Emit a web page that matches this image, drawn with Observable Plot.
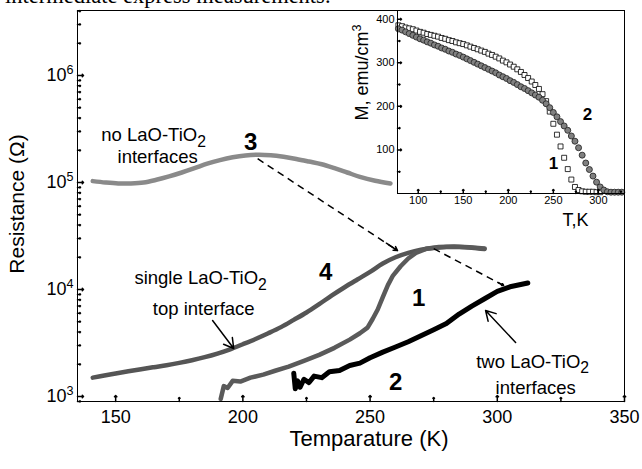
<!DOCTYPE html>
<html><head><meta charset="utf-8">
<script src="https://cdn.jsdelivr.net/npm/d3@7"></script>
<script src="https://cdn.jsdelivr.net/npm/@observablehq/plot@0.6"></script>
<style>
body{margin:0;background:#fff;}
#wrap{position:relative;width:642px;height:469px;overflow:hidden;font-family:"Liberation Sans",Arial,sans-serif;background:#fff;}
#top{position:absolute;left:5px;top:-15px;font:22.5px "Liberation Serif",serif;white-space:nowrap;line-height:22px;}
#main{position:absolute;left:0;top:0;}
#inset{position:absolute;left:340px;top:0;}
</style></head><body>
<div id="wrap"><div id="top">intermediate express measurements.</div><div id="main"></div><div id="inset"></div></div>
<script>
// ---- main chart data: Temperature (K) vs Resistance (Ohm) ----
const c3T = [141,146,151,156,161,166,171,176,181,186,191,196,201,206,211,216,221,226,231,236,241,246,252,258];
const c3R = [1.03e5,1.0e5,9.8e4,9.8e4,1.0e5,1.06e5,1.14e5,1.24e5,1.36e5,1.5e5,1.62e5,1.72e5,1.79e5,1.82e5,1.8e5,1.74e5,1.66e5,1.57e5,1.48e5,1.36e5,1.24e5,1.13e5,1.04e5,9.8e4];

const c4T = [141,145,150,155,160,165,170,175,180,185,190,195,200,205,210,215,220,225,230,235,240,245,250,255,260,265,270,275,280,285,290,295];
const c4R = [1500,1560,1640,1720,1800,1880,1960,2060,2180,2330,2520,2760,3080,3450,3900,4450,5200,6100,7300,8800,10500,12400,14600,17500,20000,22000,23500,24400,24900,25000,24600,23900];

const c1T = [191.3,192.5,194,196,199,203,208,213,218,224,230,236,242,246,249,251,253,255,257,259,262,265,268,272,277,283,289,295];
const c1R = [950,1250,1200,1400,1380,1500,1600,1750,1900,2150,2450,2850,3400,3900,4400,5300,6500,8500,11000,13500,16500,19500,22000,24000,25000,25200,24800,24200];

const c2T = [220,220.6,221.5,222.5,224,226,228,231,234,238,242,246,250,255,260,265,270,275,280,285,290,295,300,305,312];
const c2R = [1650,1180,1400,1220,1450,1350,1550,1500,1700,1750,1950,2050,2300,2600,2900,3250,3700,4200,4800,5900,7000,8200,9600,10600,11500];

const xMajor = [150,200,250,300,350];
const xMinor = [175,225,275,325];
const yMajor = [1e3,1e4,1e5,1e6];

// annotations (T, R, text)
const noteText = ["no LaO-TiO_2","interfaces","single LaO-TiO_2","top interface","two LaO-TiO_2","interfaces"];
const noteT = [164.9,166.5,183.4,184.6,313.9,315.1];
const noteR = [2.75e5,1.71e5,1.27e4,6500,2120,1190];
const numText = ["3","4","1","2"];
const numT = [203.1,232.5,269.1,260.1];
const numR = [2.37e5,1.44e4,8240,1350];

// dashed arrows (start T,R -> end T,R)
const dashT1 = [205.8,275.0], dashR1 = [1.67e5,2.41e4], dashT2 = [260.8,302.5], dashR2 = [2.31e4,1.09e4];
// solid pointer arrows
const arrT1 = [188.1,307.2], arrR1 = [5130,3200], arrT2 = [196.4,295.4], arrR2 = [2810,6370];

// ---- inset data: T (K) vs M (emu/cm3) ----
const m1T = [78,82,86,90,94,98,102,106,110,114,118,122,126,130,134,138,142,146,150,154,158,162,166,170,174,178,182,186,190,194,198,202,206,210,214,218,222,226,230,234,238,242,246,250,254,258,262,266,270,274,278,282,286,290,294,298,302];
const m1M = [386,384,381,379,377,374,371,369,366,364,362,360,357,355,352,350,347,345,343,340,337,334,331,328,325,321,318,314,310,305,301,296,291,285,279,272,265,257,249,240,228,212,188,160,135,108,82,56,32,15,8,5,4,4,4,3,3];
const m2T = [78,82,86,90,94,98,102,106,110,114,118,122,126,130,134,138,142,146,150,154,158,162,166,170,174,178,182,186,190,194,198,202,206,210,214,218,222,226,230,234,238,242,246,250,254,258,262,266,270,274,278,282,286,290,294,298,302,306,310,314,318,322,326];
const m2M = [378,375,371,367,363,359,355,352,348,345,341,338,334,331,327,324,320,317,313,309,305,301,297,293,289,285,281,277,272,268,264,259,255,250,245,241,236,231,226,221,214,206,197,186,176,165,155,145,132,120,105,88,70,55,40,26,15,8,4,3,3,3,3];
const ixMajor = [100,150,200,250,300], ixMinor = [125,175,225,275,325];
const iyMajor = [100,200,300,400], iyMinor = [50,150,250,350];
const insetNumText = ["1","2"], insetNumT = [250.3,288], insetNumM = [69,181];

const zip = (xs, ys, kx, ky) => xs.map((v, i) => ({[kx]: v, [ky]: ys[i]}));
const curve3 = zip(c3T, c3R, "T", "R");
const curve4 = zip(c4T, c4R, "T", "R");
const curve1 = zip(c1T, c1R, "T", "R");
const curve2 = zip(c2T, c2R, "T", "R");
const notes = noteText.map((s, i) => ({s, T: noteT[i], R: noteR[i]}));
const nums = numText.map((s, i) => ({s, T: numT[i], R: numR[i]}));
const dashes = dashT1.map((v, i) => ({x1: v, y1: dashR1[i], x2: dashT2[i], y2: dashR2[i]}));
const arrows = arrT1.map((v, i) => ({x1: v, y1: arrR1[i], x2: arrT2[i], y2: arrR2[i]}));
const headStart = (d, k) => ({x1: d.x2 - k * (d.x2 - d.x1), y1: Math.pow(10, Math.log10(d.y2) - k * (Math.log10(d.y2) - Math.log10(d.y1))), x2: d.x2, y2: d.y2});
const dashHeads = dashes.map(d => headStart(d, 0.08));

const yMinor = d3.scaleLog().domain([898, 4.05e6]).ticks().filter(v => !yMajor.includes(v));

const font = "Liberation Sans, Arial, sans-serif";
const main = Plot.plot({
  width: 642, height: 469,
  marginLeft: 77, marginRight: 18, marginTop: 10, marginBottom: 68,
  style: {fontFamily: font, background: "transparent", overflow: "visible"},
  x: {domain: [135, 350]},
  y: {type: "log", domain: [898, 4.05e6]},
  marks: [
    Plot.line(curve3, {x: "T", y: "R", stroke: "#8a8a8a", strokeWidth: 4.5, curve: "catmull-rom"}),
    Plot.line(curve4, {x: "T", y: "R", stroke: "#555", strokeWidth: 4.5, curve: "catmull-rom"}),
    Plot.line(curve1, {x: "T", y: "R", stroke: "#5a5a5a", strokeWidth: 4.5, curve: "linear"}),
    Plot.line(curve2, {x: "T", y: "R", stroke: "#000", strokeWidth: 5, curve: "linear"}),
    Plot.link(dashes, {x1: "x1", y1: "y1", x2: "x2", y2: "y2", stroke: "#000", strokeWidth: 1.5, strokeDasharray: "7,5"}),
    Plot.arrow(dashHeads, {x1: "x1", y1: "y1", x2: "x2", y2: "y2", stroke: "#000", strokeWidth: 1.5, headLength: 11}),
    Plot.arrow(arrows, {x1: "x1", y1: "y1", x2: "x2", y2: "y2", stroke: "#000", strokeWidth: 1.5, headLength: 11}),
    Plot.text(notes, {x: "T", y: "R", text: "s", fontSize: 18.5, fill: "#000"}),
    Plot.text(nums, {x: "T", y: "R", text: "s", fontSize: 24, fontWeight: "bold", fill: "#000"}),
    Plot.frame({stroke: "#000", strokeWidth: 1}),
    Plot.vectorX(xMajor, {x: d => d, frameAnchor: "bottom", length: 6, anchor: "start", stroke: "#000"}),
    Plot.vectorX(xMinor, {x: d => d, frameAnchor: "bottom", length: 4, anchor: "start", stroke: "#000"}),
    Plot.vectorY(yMajor, {y: d => d, frameAnchor: "left", rotate: 90, length: 6, anchor: "start", stroke: "#000"}),
    Plot.vectorY(yMinor, {y: d => d, frameAnchor: "left", rotate: 90, length: 3, anchor: "start", stroke: "#000"}),
    Plot.axisX({ticks: xMajor, tickSize: 0, tickPadding: 9, fontSize: 18, label: null}),
    Plot.axisY({ticks: yMajor, tickSize: 0, tickPadding: 4, fontSize: 18, label: null, tickFormat: d => "10^" + Math.round(Math.log10(d))}),
    Plot.text(["Temparature (K)"], {text: d => d, frameAnchor: "bottom", textAnchor: "middle", dx: 18, dy: 44, fontSize: 22}),
    Plot.text(["Resistance (\u03A9)"], {text: d => d, frameAnchor: "left", textAnchor: "middle", rotate: -90, dx: -60, dy: -2, fontSize: 21})
  ]
});

const mag1 = zip(m1T, m1M, "T", "M");
const mag2 = zip(m2T, m2M, "T", "M");
const insetNums = insetNumText.map((s, i) => ({s, T: insetNumT[i], M: insetNumM[i]}));
const inset = Plot.plot({
  width: 290, height: 235,
  marginLeft: 57, marginRight: 6, marginTop: 10, marginBottom: 42,
  style: {fontFamily: font, background: "transparent", overflow: "visible"},
  x: {domain: [77, 329]},
  y: {domain: [0, 420]},
  marks: [
    Plot.dot(mag1, {x: "T", y: "M", symbol: "square", r: 2.8, fill: "white", stroke: "#000", strokeWidth: 0.8}),
    Plot.dot(mag2, {x: "T", y: "M", symbol: "circle", r: 3, fill: "#808080", stroke: "#2a2a2a", strokeWidth: 0.9}),
    Plot.frame({stroke: "#000"}),
    Plot.vectorX(ixMajor, {x: d => d, frameAnchor: "bottom", length: 4, anchor: "start", stroke: "#000"}),
    Plot.vectorX(ixMinor, {x: d => d, frameAnchor: "bottom", length: 2.5, anchor: "start", stroke: "#000"}),
    Plot.vectorY(iyMajor, {y: d => d, frameAnchor: "left", rotate: 90, length: 4, anchor: "start", stroke: "#000"}),
    Plot.vectorY(iyMinor, {y: d => d, frameAnchor: "left", rotate: 90, length: 2.5, anchor: "start", stroke: "#000"}),
    Plot.axisX({ticks: ixMajor, tickSize: 0, tickPadding: 3, fontSize: 11, label: null}),
    Plot.axisY({ticks: iyMajor, tickSize: 0, tickPadding: 3, fontSize: 11, label: null}),
    Plot.text(insetNums, {x: "T", y: "M", text: "s", fontSize: 17, fontWeight: "bold", fill: "#000"}),
    Plot.text(["T,K"], {text: d => d, frameAnchor: "bottom-right", textAnchor: "end", dx: -36, dy: 32, fontSize: 18}),
    Plot.text(["M, emu/cm^3"], {text: d => d, frameAnchor: "top-left", textAnchor: "middle", rotate: -90, dx: -42, dy: 62, fontSize: 18})
  ]
});

function scripts(svg) {
  svg.querySelectorAll("text").forEach(t => {
    const s = t.textContent;
    const m = s.match(/^(.*?)([\^_])(.+)$/);
    if (!m || t.querySelector("tspan")) return;
    t.textContent = m[1];
    const ts = document.createElementNS("http://www.w3.org/2000/svg", "tspan");
    ts.textContent = m[3];
    if (m[2] === "^") { ts.setAttribute("font-size", "0.7em"); ts.setAttribute("dy", "-0.6em"); }
    else { ts.setAttribute("font-size", "0.85em"); ts.setAttribute("dy", "0.35em"); }
    t.appendChild(ts);
  });
}
scripts(main); scripts(inset);
document.getElementById("main").appendChild(main);
document.getElementById("inset").appendChild(inset);
</script>
</body></html>
